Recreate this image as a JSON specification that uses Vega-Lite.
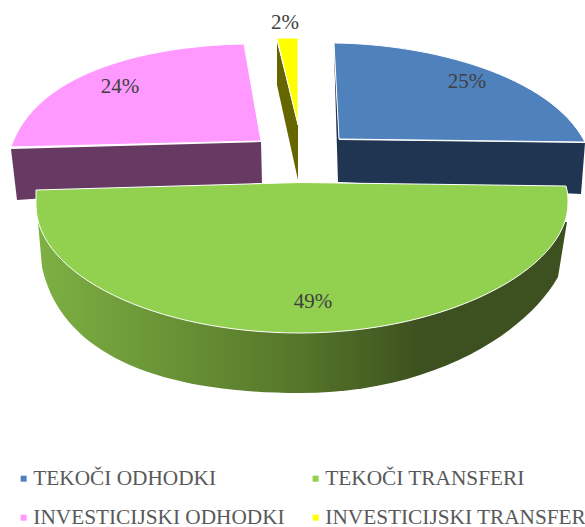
{
  "$schema": "https://vega.github.io/schema/vega-lite/v6.json",
  "width": 584,
  "height": 526,
  "padding": {"left": 0, "top": 0, "right": 1, "bottom": 1},
  "autosize": {"type": "none"},
  "background": "#ffffff",
  "view": {"stroke": null},
  "config": {"font": "Liberation Serif"},
  "data": {"values": [
    {"slice": "TEKOČI ODHODKI", "share": 25, "label": "25%"},
    {"slice": "TEKOČI TRANSFERI", "share": 49, "label": "49%"},
    {"slice": "INVESTICIJSKI ODHODKI", "share": 24, "label": "24%"},
    {"slice": "INVESTICIJSKI TRANSFER", "share": 2, "label": "2%"}
  ]},
  "layer": [
    {
      "transform": [{"filter": "datum.slice === 'TEKOČI ODHODKI'"}],
      "mark": {"type": "point", "filled": true, "size": 4, "opacity": 1, "fill": "#1F3552",
        "shape": "M47,-123 L293,-120 L289,-69 L47,-81 Z M42,-213 L47,-123 L47,-81 L46,-81 Z"}
    },
    {
      "transform": [{"filter": "datum.slice === 'INVESTICIJSKI ODHODKI'"}],
      "mark": {"type": "point", "filled": true, "size": 4, "opacity": 1, "fill": "#663A63",
        "shape": "M-281,-114 L-31,-121 L-30,-80 L-275,-63 Z"}
    },
    {
      "transform": [{"filter": "datum.slice === 'INVESTICIJSKI TRANSFER'"}],
      "mark": {"type": "point", "filled": true, "size": 4, "opacity": 1, "fill": "#666600",
        "shape": "M-15,-221 L-15,-178 L6,-83 L6,-138 Z"}
    },
    {
      "transform": [{"filter": "datum.slice === 'TEKOČI TRANSFERI'"}],
      "mark": {
        "type": "point", "filled": true, "size": 4, "opacity": 1,
        "shape": "M-254,-41 L-250,4 C-232,87 -142,130 8,130 C138,130 233,72 266,14 L275,-41 Z",
        "fill": {"gradient": "linear", "x1": 0, "y1": 0, "x2": 1, "y2": 0, "stops": [
          {"offset": 0, "color": "#7DB043"},
          {"offset": 0.5, "color": "#557529"},
          {"offset": 0.72, "color": "#3D5120"},
          {"offset": 1, "color": "#3D5120"}
        ]}
      }
    },
    {
      "mark": {"type": "point", "filled": true, "size": 4, "opacity": 1, "stroke": "#ffffff", "strokeWidth": 1},
      "encoding": {
        "shape": {"field": "label", "type": "nominal", "legend": null, "scale": {
          "domain": ["25%", "49%", "24%", "2%"],
          "range": [
            "M42,-220 C138,-219 258,-188 293,-121 L47,-124 Z",
            "M-256,-73 L8,-80.5 L274,-77 C276,-70 276,-65 276,-60 C276,7 153,70 8,70 C-137,70 -256,12 -256,-58 Z",
            "M-48,-219 C-152,-217 -257,-188 -281,-116 L-31,-122 Z",
            "M-15,-225 L6,-225 L6,-138 Z"
          ]}},
        "fill": {"field": "slice", "type": "nominal",
          "scale": {
            "domain": ["TEKOČI ODHODKI", "TEKOČI TRANSFERI", "INVESTICIJSKI ODHODKI", "INVESTICIJSKI TRANSFER"],
            "range": ["#4F81BD", "#92D050", "#FF99FF", "#FFFF00"]},
          "legend": {
            "title": null, "orient": "none", "legendX": 13, "legendY": 468, "columns": 2,
            "values": ["TEKOČI ODHODKI", "INVESTICIJSKI ODHODKI", "TEKOČI TRANSFERI", "INVESTICIJSKI TRANSFER"],
            "symbolType": "square", "symbolSize": 36, "symbolStrokeWidth": 0,
            "labelFont": "Liberation Serif", "labelFontSize": 21.3, "labelColor": "#595959",
            "labelOffset": -1, "columnPadding": 20, "rowPadding": 17, "labelLimit": 400
          }}
      }
    },
    {
      "mark": {"type": "text", "font": "Liberation Serif", "fontSize": 21, "color": "#404040", "baseline": "middle", "align": "center"},
      "encoding": {
        "text": {"field": "label", "type": "nominal"},
        "x": {"field": "share", "type": "quantitative", "axis": null, "scale": {"domain": [2, 24, 25, 49], "range": [285, 120, 467, 313], "zero": false, "nice": false}},
        "y": {"field": "share", "type": "quantitative", "axis": null, "scale": {"domain": [2, 24, 25, 49], "range": [23, 87, 82, 302], "zero": false, "nice": false}}
      }
    }
  ]
}
